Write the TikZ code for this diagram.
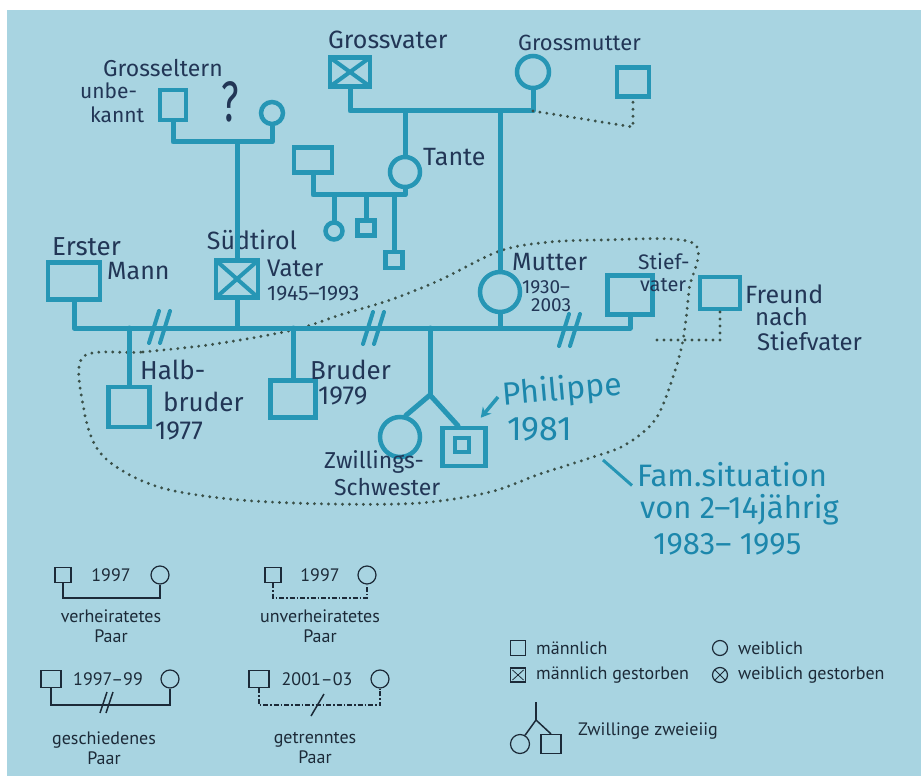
\documentclass[tikz,border=0pt]{standalone}
\usepackage{fontspec}
\setmainfont{PT Sans}
\newfontfamily\handfont{Fira Sans}
\usetikzlibrary{positioning, arrows.meta}

\definecolor{paper}{RGB}{168,212,225}
\definecolor{penblue}{RGB}{38,150,181}
\definecolor{penteal}{RGB}{28,135,172}
\definecolor{ink}{RGB}{34,54,86}
\definecolor{dotc}{RGB}{58,80,72}
\definecolor{legc}{RGB}{28,42,56}

\newcommand\handsz[1]{\handfont\fontsize{#1}{#1}\selectfont}

\tikzset{%
male/.style={rectangle, draw=penblue, line width=4.5pt, inner sep=0pt},
female/.style={circle, draw=penblue, line width=4.5pt, inner sep=0pt},
dead/.style={path picture={
    \draw[penblue, line width=4pt]
      (path picture bounding box.north west) -- (path picture bounding box.south east)
      (path picture bounding box.north east) -- (path picture bounding box.south west);}},
rel/.style={draw=penblue, line width=5pt, line cap=round, line join=round},
loose/.style={draw=dotc, line width=3.2pt, dash pattern=on 0pt off 7pt, line cap=round},
hand/.style={text=ink, font=\handsz{25}, inner sep=0pt, anchor=west},
pen/.style={text=penteal, font=\handsz{34}, inner sep=0pt, anchor=west},
divmark/.pic={\draw[rel, line width=4pt] (-13,16) -- (-3,-16) (-2,16) -- (8,-16);},
% legend
lmale/.style={rectangle, draw=legc, line width=1.2pt, inner sep=0pt, minimum width=16pt, minimum height=15pt},
lfemale/.style={circle, draw=legc, line width=1.2pt, inner sep=0pt, minimum size=18pt},
ldead/.style={path picture={
    \draw[legc, line width=0.8pt]
      ([shift={(2pt,-2pt)}]path picture bounding box.north west) -- ([shift={(-2pt,2pt)}]path picture bounding box.south east)
      ([shift={(-2pt,-2pt)}]path picture bounding box.north east) -- ([shift={(2pt,2pt)}]path picture bounding box.south west);}},
lline/.style={draw=legc, line width=1.5pt},
ldash/.style={lline, dash pattern=on 5pt off 2pt on 1.5pt off 2pt},
ltext/.style={text=legc, font=\fontsize{18}{20}\selectfont, inner sep=0pt, align=center},
}

\begin{document}
\begin{tikzpicture}[x=1pt, y=-1pt]
\useasboundingbox (0,0) rectangle (921,778);
\fill[white] (0,0) rectangle (921,778);
\fill[paper] (7,10) rectangle (921,776);

% family situation outline
\draw[loose] plot[smooth cycle, tension=0.55] coordinates {
  (83,357) (143,352) (215,344) (293,330) (340,315) (390,300) (440,280)
  (497,252) (540,243) (600,240) (693,243) (689,290) (683,340) (672,380)
  (655,420) (625,445) (590,458) (540,474) (490,492) (420,503) (330,504)
  (240,500) (170,490) (128,474) (98,450) (84,410)};

% grandparents, father side
\node[male, minimum width=26, minimum height=30] (ugv) at (173,105) {};
\node[female, minimum size=22] (ugm) at (272,113) {};
\node[hand, font=\handsz{23}] (ugtxt) at (103,68) {Grosseltern};
\node[hand, font=\handsz{21}] (unbe) at (80,91) {unbe-};
\node[hand, font=\handsz{21}] (kannt) at (90,115) {kannt};
\node[hand, anchor=center] (frage) at (230,102) {\scalebox{1}[1.5]{\handsz{38}?}};

% grandparents, mother side
\node[male, dead, minimum width=40, minimum height=29] (gv) at (350,72) {};
\node[female, minimum size=32] (gm) at (533,72) {};
\node[male, minimum width=32, minimum height=29] (gmp) at (633,82) {};
\node[hand] (gvtxt) at (328,40) {Grossvater};
\node[hand, font=\handsz{22}] (gmtxt) at (518,43) {Grossmutter};

% aunt and her family
\node[female, minimum size=30] (tante) at (405,172) {};
\node[male, minimum width=38, minimum height=25] (onkel) at (313,160) {};
\node[female, minimum size=17] (cous1) at (334,231) {};
\node[male, minimum width=17, minimum height=15] (cous2) at (366,228) {};
\node[male, minimum width=17, minimum height=16] (cous3) at (394,260) {};
\node[hand] (tantetxt) at (423,157) {Tante};

% parents
\node[male, minimum width=52, minimum height=37] (erster) at (74,281) {};
\node[male, dead, minimum width=42, minimum height=37] (vater) at (237,279) {};
\node[female, minimum size=40] (mutter) at (500,292) {};
\node[male, minimum width=45, minimum height=39] (stief) at (630,295) {};
\node[male, minimum width=40, minimum height=32] (freund) at (720,293) {};

\node[hand, font=\handsz{26}] (erstertxt) at (52,247) {Erster};
\node[hand] (manntxt) at (107,271) {Mann};
\node[hand, anchor=center] (suedtxt) at (252,240) {Südtirol};
\node[hand, font=\handsz{24}] (vatertxt) at (267,268) {Vater};
\node[hand, font=\handsz{21}] (vjahre) at (267,294) {1945–1993};
\node[hand] (muttertxt) at (512,262) {Mutter};
\node[hand, font=\handsz{19}] (mjahr1) at (522,287) {1930–};
\node[hand, font=\handsz{19}] (mjahr2) at (531,305) {2003};
\node[hand, font=\handsz{21}] (stieftxt1) at (638,261) {Stief-};
\node[hand, font=\handsz{20}] (stieftxt2) at (640,285) {vater};
\node[hand] (freundtxt1) at (745,294) {Freund};
\node[hand, font=\handsz{24}] (freundtxt2) at (755,317) {nach};
\node[hand, font=\handsz{24}] (freundtxt3) at (757,341) {Stiefvater};

% children
\node[male, minimum width=41, minimum height=40] (halb) at (129,407) {};
\node[male, minimum width=45, minimum height=37] (bruder) at (293,399) {};
\node[female, minimum size=40] (schwester) at (400,437) {};
\node[male, minimum width=43, minimum height=38] (phil) at (464,447) {};
\node[male, line width=3.5pt, minimum size=14] (philin) at (462,445) {};

\node[hand, font=\handsz{26}] (halbtxt1) at (140,370) {Halb-};
\node[hand, font=\handsz{26}] (halbtxt2) at (163,402) {bruder};
\node[hand, font=\handsz{26}] (halbjahr) at (155,431) {1977};
\node[hand, font=\handsz{26}] (brudertxt) at (310,370) {Bruder};
\node[hand, font=\handsz{26}] (bruderjahr) at (318,396) {1979};
\node[hand, font=\handsz{23}] (schwtxt1) at (324,462) {Zwillings-};
\node[hand, font=\handsz{23}] (schwtxt2) at (334,487) {Schwester};
\node[pen, font=\handsz{32}, rotate=5] (philtxt) at (503,396) {Philippe};
\node[pen] (philjahr) at (507,429) {1981};

% connectors, grandparents
\coordinate (ugbar) at (0,142);
\draw[rel] (ugv.south) -- (ugv.south |- ugbar) -- (ugm.south |- ugbar) -- (ugm.south);
\draw[rel] (vater.north) -- (vater.north |- ugbar);

\coordinate (gpbar) at (0,111);
\draw[rel] (gv.south) -- (gv.south |- gpbar) -- (gm.south |- gpbar) -- (gm.south);
\coordinate (gmpfoot) at (633,127);
\draw[loose] (gm.south |- gpbar) -- (gmpfoot) -- (gmp.south);
\draw[rel] (tante.north) -- (tante.north |- gpbar);
\draw[rel] (mutter.north) -- (mutter.north |- gpbar);

\coordinate (tbar) at (0,195);
\draw[rel] (onkel.south) -- (onkel.south |- tbar) -- (tante.south |- tbar) -- (tante.south);
\draw[rel] (cous1.north) -- (cous1.north |- tbar);
\draw[rel] (cous2.north) -- (cous2.north |- tbar);
\draw[rel] (cous3.north) -- (cous3.north |- tbar);

% connectors, parents
\coordinate (pbar) at (0,328);
\draw[rel] (erster.south) -- (erster.south |- pbar) -- (stief.south |- pbar) -- (stief.south);
\draw[rel] (vater.south) -- (vater.south |- pbar);
\draw[rel] (mutter.south) -- (mutter.south |- pbar);
\pic at (162,327) {divmark};
\pic at (376,328) {divmark};
\pic at (572,330) {divmark};
\coordinate (sffoot) at (727,340);
\draw[loose] ([xshift=27]stief.south |- sffoot) -- (freund.south |- sffoot) -- (freund.south);

% connectors, children
\draw[rel] (halb.north) -- (halb.north |- pbar);
\draw[rel] (bruder.north) -- (bruder.north |- pbar);
\coordinate (twinfork) at (430,395);
\draw[rel] (twinfork) -- (twinfork |- pbar);
\draw[rel] (schwester.75) -- (twinfork) -- ([xshift=-6]phil.north);
\draw[penblue, line width=3.5pt, -{Stealth[length=10pt, width=11pt]}]
  ([shift={(-5,1)}]philtxt.west) -- ([shift={(-7,-8)}]phil.north east);

% family situation note
\node[pen, font=\handsz{31}] (famtxt1) at (637,475) {Fam.situation};
\node[pen, font=\handsz{31}] (famtxt2) at (640,510) {von 2–14jährig};
\node[pen, font=\handsz{31}] (famtxt3) at (653,544) {1983– 1995};
\coordinate (famtip) at (603,460);
\draw[penblue, line width=3pt] (famtip) -- ([shift={(-5,-2)}]famtxt1.south west);

% legend: couples
\node[lmale] (vmm) at (63,575) {};
\node[lfemale] (vmf) at (160,575) {};
\node[ltext] (vmy) at (111,575) {1997};
\draw[lline] (vmm.south) -- ++(0,15) -| (vmf.south);
\node[ltext] (vmtxt) at (111,626) {verheiratetes\\Paar};

\node[lmale] (umm) at (273,575) {};
\node[lfemale] (umf) at (367,575) {};
\node[ltext] (umy) at (320,575) {1997};
\draw[ldash] (umm.south) -- ++(0,15) -| (umf.south);
\node[ltext] (umtxt) at (320,626) {unverheiratetes\\Paar};

\node[lmale, minimum width=20pt, minimum height=17pt] (gsm) at (51,679) {};
\node[lfemale] (gsf) at (170,679) {};
\node[ltext] (gsy) at (108,679) {1997–99};
\draw[lline] (gsm.south) -- ++(0,17) -| (gsf.south);
\draw[lline] (100,713) -- (107,692) (106,713) -- (113,692);
\node[ltext] (gstxt) at (104,748) {geschiedenes\\Paar};

\node[lmale, minimum width=20pt, minimum height=17pt] (gtm) at (259,679) {};
\node[lfemale] (gtf) at (380,679) {};
\node[ltext] (gty) at (317,679) {2001–03};
\draw[ldash] (gtm.south) -- ++(0,17) -| (gtf.south);
\draw[lline] (311,716) -- (324,694);
\node[ltext] (gttxt) at (315,748) {getrenntes\\Paar};

% legend: symbols
\node[lmale, minimum width=15pt, minimum height=15pt] (lm) at (518,648) {};
\node[ltext, anchor=west] (lmtxt) at (536,648) {männlich};
\node[lfemale, minimum size=15pt] (lf) at (720,648) {};
\node[ltext, anchor=west] (lftxt) at (738,648) {weiblich};
\node[lmale, ldead, minimum width=15pt, minimum height=14pt] (lmd) at (518,675) {};
\node[ltext, anchor=west] (lmdtxt) at (536,675) {männlich gestorben};
\node[lfemale, ldead, minimum size=15pt] (lfd) at (720,675) {};
\node[ltext, anchor=west] (lfdtxt) at (738,675) {weiblich gestorben};

\node[lfemale, minimum size=19pt] (ltwf) at (520,744) {};
\node[lmale, minimum width=20pt, minimum height=19pt] (ltwm) at (551,744) {};
\coordinate (ltwfork) at (536,720);
\draw[lline] (ltwfork) -- ++(0,-18);
\draw[lline] (ltwf.60) -- (ltwfork) -- (ltwm.north);
\node[ltext, anchor=west] (ltwtxt) at (578,731) {Zwillinge zweieiig};
\end{tikzpicture}
\end{document}
